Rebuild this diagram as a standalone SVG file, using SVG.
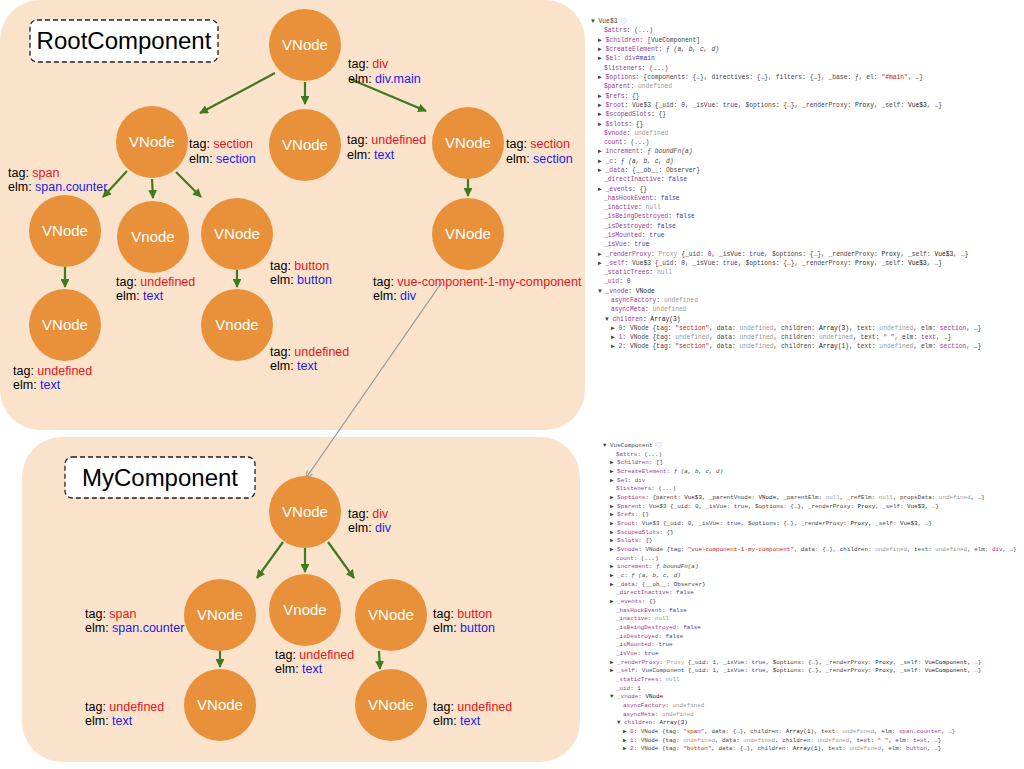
<svg xmlns="http://www.w3.org/2000/svg" width="1024" height="769" viewBox="0 0 1024 769">
<style>
.panel{fill:#fbe3cb}
.title{fill:#fff;stroke:#222;stroke-width:1.3;stroke-dasharray:5 3}
.tt{font-family:"Liberation Sans",Arial,sans-serif;font-size:24px;fill:#000}
.n circle{fill:#e8913a}
.n text.v{font-family:"Liberation Sans",Arial,sans-serif;font-size:15px;fill:#fff;text-anchor:middle}
.lb{font-family:"Liberation Sans",Arial,sans-serif;font-size:12.5px;fill:#000}
.r{fill:#e8141a}.b{fill:#1b1be8}
.e line{stroke:#3f7a1f;stroke-width:2.2;marker-end:url(#ga)}
.c{font-family:"Liberation Mono","DejaVu Sans Mono",monospace;font-size:6.3px;fill:#444}
#console-my{font-size:5.9px}
.p{fill:#9a3a92}.g{fill:#999}.t{fill:#3a3ab0}.s{fill:#c41a16}.k{fill:#222}
</style>
<defs>
<marker id="ga" viewBox="0 0 10 10" refX="9" refY="5" markerWidth="4" markerHeight="4" orient="auto"><path d="M0,0L10,5L0,10z" fill="#3f7a1f"/></marker>
<marker id="gr" viewBox="0 0 10 10" refX="9" refY="5" markerWidth="6" markerHeight="6" orient="auto"><path d="M0,1L10,5L0,9" fill="none" stroke="#999" stroke-width="1.5"/></marker>
</defs>
<rect width="1024" height="769" fill="#fff"/>
<rect class="panel" x="0" y="0" width="585" height="430" rx="40"/>
<rect class="panel" x="22" y="437" width="558" height="325" rx="40"/>
<g id="title-root"><rect class="title" x="30" y="20" width="188" height="42" rx="7"/><text class="tt" x="124" y="49" text-anchor="middle">RootComponent</text></g>
<g id="title-my"><rect class="title" x="65" y="457" width="190" height="41" rx="7"/><text class="tt" x="160" y="486" text-anchor="middle">MyComponent</text></g>

<g id="connectors">
<g class="e">
<line x1="275" y1="73" x2="200" y2="113"/>
<line x1="305" y1="82" x2="305" y2="104"/>
<line x1="350" y1="79" x2="426" y2="111"/>
<line x1="127" y1="171" x2="103" y2="197"/>
<line x1="152" y1="179" x2="153" y2="198"/>
<line x1="176" y1="172" x2="201" y2="197"/>
<line x1="468" y1="179" x2="468" y2="196"/>
<line x1="65" y1="267" x2="65" y2="287"/>
<line x1="237" y1="270" x2="237" y2="287"/>
<line x1="283" y1="542" x2="257" y2="578"/>
<line x1="305" y1="548" x2="305" y2="572"/>
<line x1="328" y1="542" x2="354" y2="578"/>
<line x1="220" y1="651" x2="220" y2="667"/>
<line x1="379" y1="651" x2="380" y2="669"/>
</g>
<line x1="442" y1="282" x2="306" y2="478" stroke="#999" stroke-width="1.3" marker-end="url(#gr)"/>
</g>

<g id="n1" class="n"><circle cx="305" cy="45" r="36"/><text class="v" x="305" y="50">VNode</text><text class="lb" x="348" y="68">tag: <tspan class="r">div</tspan></text><text class="lb" x="348" y="83">elm: <tspan class="b">div.main</tspan></text></g>
<g id="n2" class="n"><circle cx="152" cy="142" r="36"/><text class="v" x="152" y="147">VNode</text><text class="lb" x="189" y="148">tag: <tspan class="r">section</tspan></text><text class="lb" x="189" y="163">elm: <tspan class="b">section</tspan></text></g>
<g id="n3" class="n"><circle cx="305" cy="145" r="36"/><text class="v" x="305" y="150">VNode</text><text class="lb" x="347" y="144">tag: <tspan class="r">undefined</tspan></text><text class="lb" x="347" y="159">elm: <tspan class="b">text</tspan></text></g>
<g id="n4" class="n"><circle cx="468" cy="143" r="36"/><text class="v" x="468" y="148">VNode</text><text class="lb" x="506" y="148">tag: <tspan class="r">section</tspan></text><text class="lb" x="506" y="163">elm: <tspan class="b">section</tspan></text></g>
<g id="n5" class="n"><circle cx="65" cy="231" r="36"/><text class="v" x="65" y="236">VNode</text><text class="lb" x="8" y="177">tag: <tspan class="r">span</tspan></text><text class="lb" x="8" y="191">elm: <tspan class="b">span.counter</tspan></text></g>
<g id="n6" class="n"><circle cx="153" cy="237" r="36"/><text class="v" x="153" y="242">Vnode</text><text class="lb" x="116" y="286">tag: <tspan class="r">undefined</tspan></text><text class="lb" x="116" y="300">elm: <tspan class="b">text</tspan></text></g>
<g id="n7" class="n"><circle cx="237" cy="234" r="36"/><text class="v" x="237" y="239">VNode</text><text class="lb" x="270" y="270">tag: <tspan class="r">button</tspan></text><text class="lb" x="270" y="284">elm: <tspan class="b">button</tspan></text></g>
<g id="n8" class="n"><circle cx="468" cy="234" r="36"/><text class="v" x="468" y="239">VNode</text><text class="lb" x="373" y="286">tag: <tspan class="r">vue-component-1-my-component</tspan></text><text class="lb" x="373" y="300">elm: <tspan class="b">div</tspan></text></g>
<g id="n9" class="n"><circle cx="65" cy="325" r="36"/><text class="v" x="65" y="330">VNode</text><text class="lb" x="13" y="375">tag: <tspan class="r">undefined</tspan></text><text class="lb" x="13" y="389">elm: <tspan class="b">text</tspan></text></g>
<g id="n10" class="n"><circle cx="237" cy="325" r="36"/><text class="v" x="237" y="330">Vnode</text><text class="lb" x="270" y="356">tag: <tspan class="r">undefined</tspan></text><text class="lb" x="270" y="370">elm: <tspan class="b">text</tspan></text></g>

<g id="m1" class="n"><circle cx="305" cy="512" r="36"/><text class="v" x="305" y="517">VNode</text><text class="lb" x="348" y="518">tag: <tspan class="r">div</tspan></text><text class="lb" x="348" y="532">elm: <tspan class="b">div</tspan></text></g>
<g id="m2" class="n"><circle cx="220" cy="615" r="36"/><text class="v" x="220" y="620">VNode</text><text class="lb" x="85" y="618">tag: <tspan class="r">span</tspan></text><text class="lb" x="85" y="632">elm: <tspan class="b">span.counter</tspan></text></g>
<g id="m3" class="n"><circle cx="305" cy="610" r="36"/><text class="v" x="305" y="615">Vnode</text><text class="lb" x="275" y="659">tag: <tspan class="r">undefined</tspan></text><text class="lb" x="275" y="673">elm: <tspan class="b">text</tspan></text></g>
<g id="m4" class="n"><circle cx="391" cy="615" r="36"/><text class="v" x="391" y="620">VNode</text><text class="lb" x="433" y="618">tag: <tspan class="r">button</tspan></text><text class="lb" x="433" y="632">elm: <tspan class="b">button</tspan></text></g>
<g id="m5" class="n"><circle cx="220" cy="705" r="36"/><text class="v" x="220" y="710">VNode</text><text class="lb" x="85" y="711">tag: <tspan class="r">undefined</tspan></text><text class="lb" x="85" y="725">elm: <tspan class="b">text</tspan></text></g>
<g id="m6" class="n"><circle cx="391" cy="705" r="36"/><text class="v" x="391" y="710">VNode</text><text class="lb" x="433" y="711">tag: <tspan class="r">undefined</tspan></text><text class="lb" x="433" y="725">elm: <tspan class="b">text</tspan></text></g>

<g id="console-root" class="c">
<text x="591" y="23">▼ Vue$3 <tspan fill="#8ab4f8">ⓘ</tspan></text>
<text x="604" y="32"><tspan class="p">$attrs</tspan>: (...)</text>
<text x="598" y="42">▶ <tspan class="p">$children</tspan>: [VueComponent]</text>
<text x="598" y="51">▶ <tspan class="p">$createElement</tspan>: <tspan class="t">ƒ</tspan> <tspan font-style="italic">(a, b, c, d)</tspan></text>
<text x="598" y="60">▶ <tspan class="p">$el</tspan>: <tspan class="p">div</tspan><tspan class="t">#main</tspan></text>
<text x="604" y="70"><tspan class="p">$listeners</tspan>: (...)</text>
<text x="598" y="79">▶ <tspan class="p">$options</tspan>: {components: {…}, directives: {…}, filters: {…}, _base: ƒ, el: <tspan class="s">"#main"</tspan>, …}</text>
<text x="604" y="88"><tspan class="p">$parent</tspan>: <tspan class="g">undefined</tspan></text>
<text x="598" y="98">▶ <tspan class="p">$refs</tspan>: {}</text>
<text x="598" y="107">▶ <tspan class="p">$root</tspan>: Vue$3 {_uid: <tspan class="t">0</tspan>, _isVue: <tspan class="t">true</tspan>, $options: {…}, _renderProxy: <tspan class="k">Proxy</tspan>, _self: <tspan class="k">Vue$3</tspan>, …}</text>
<text x="598" y="116">▶ <tspan class="p">$scopedSlots</tspan>: {}</text>
<text x="598" y="126">▶ <tspan class="p">$slots</tspan>: {}</text>
<text x="604" y="135"><tspan class="p">$vnode</tspan>: <tspan class="g">undefined</tspan></text>
<text x="604" y="144"><tspan class="p">count</tspan>: (...)</text>
<text x="598" y="153">▶ <tspan class="p">increment</tspan>: <tspan class="t">ƒ</tspan> <tspan font-style="italic">boundFn(a)</tspan></text>
<text x="598" y="163">▶ <tspan class="p">_c</tspan>: <tspan class="t">ƒ</tspan> <tspan font-style="italic">(a, b, c, d)</tspan></text>
<text x="598" y="172">▶ <tspan class="p">_data</tspan>: {__ob__: Observer}</text>
<text x="604" y="181"><tspan class="p">_directInactive</tspan>: <tspan class="t">false</tspan></text>
<text x="598" y="191">▶ <tspan class="p">_events</tspan>: {}</text>
<text x="604" y="200"><tspan class="p">_hasHookEvent</tspan>: <tspan class="t">false</tspan></text>
<text x="604" y="209"><tspan class="p">_inactive</tspan>: <tspan class="g">null</tspan></text>
<text x="604" y="218"><tspan class="p">_isBeingDestroyed</tspan>: <tspan class="t">false</tspan></text>
<text x="604" y="228"><tspan class="p">_isDestroyed</tspan>: <tspan class="t">false</tspan></text>
<text x="604" y="237"><tspan class="p">_isMounted</tspan>: <tspan class="t">true</tspan></text>
<text x="604" y="246"><tspan class="p">_isVue</tspan>: <tspan class="t">true</tspan></text>
<text x="598" y="256">▶ <tspan class="p">_renderProxy</tspan>: <tspan class="g">Proxy</tspan> {_uid: <tspan class="t">0</tspan>, _isVue: <tspan class="t">true</tspan>, $options: {…}, _renderProxy: <tspan class="k">Proxy</tspan>, _self: <tspan class="k">Vue$3</tspan>, …}</text>
<text x="598" y="265">▶ <tspan class="p">_self</tspan>: Vue$3 {_uid: <tspan class="t">0</tspan>, _isVue: <tspan class="t">true</tspan>, $options: {…}, _renderProxy: <tspan class="k">Proxy</tspan>, _self: <tspan class="k">Vue$3</tspan>, …}</text>
<text x="604" y="274"><tspan class="p">_staticTrees</tspan>: <tspan class="g">null</tspan></text>
<text x="604" y="283"><tspan class="p">_uid</tspan>: <tspan class="t">0</tspan></text>
<text x="598" y="293">▼ <tspan class="p">_vnode</tspan>: <tspan class="k">VNode</tspan></text>
<text x="611" y="302"><tspan class="p">asyncFactory</tspan>: <tspan class="g">undefined</tspan></text>
<text x="611" y="311"><tspan class="p">asyncMeta</tspan>: <tspan class="g">undefined</tspan></text>
<text x="605" y="321">▼ <tspan class="p">children</tspan>: <tspan class="k">Array(3)</tspan></text>
<text x="611" y="330">▶ <tspan class="p">0</tspan>: VNode {tag: <tspan class="s">"section"</tspan>, data: <tspan class="g">undefined</tspan>, children: <tspan class="k">Array(3)</tspan>, text: <tspan class="g">undefined</tspan>, elm: <tspan class="p">section</tspan>, …}</text>
<text x="611" y="339">▶ <tspan class="p">1</tspan>: VNode {tag: <tspan class="g">undefined</tspan>, data: <tspan class="g">undefined</tspan>, children: <tspan class="g">undefined</tspan>, text: <tspan class="s">" "</tspan>, elm: <tspan class="p">text</tspan>, …}</text>
<text x="611" y="348">▶ <tspan class="p">2</tspan>: VNode {tag: <tspan class="s">"section"</tspan>, data: <tspan class="g">undefined</tspan>, children: <tspan class="k">Array(1)</tspan>, text: <tspan class="g">undefined</tspan>, elm: <tspan class="p">section</tspan>, …}</text>
</g>

<g id="console-my" class="c">
<text x="603" y="447">▼ VueComponent <tspan fill="#8ab4f8">ⓘ</tspan></text>
<text x="616" y="456"><tspan class="p">$attrs</tspan>: (...)</text>
<text x="610" y="464">▶ <tspan class="p">$children</tspan>: []</text>
<text x="610" y="473">▶ <tspan class="p">$createElement</tspan>: <tspan class="t">ƒ</tspan> <tspan font-style="italic">(a, b, c, d)</tspan></text>
<text x="610" y="482">▶ <tspan class="p">$el</tspan>: <tspan class="p">div</tspan></text>
<text x="616" y="490"><tspan class="p">$listeners</tspan>: (...)</text>
<text x="610" y="499">▶ <tspan class="p">$options</tspan>: {parent: <tspan class="k">Vue$3</tspan>, _parentVnode: <tspan class="k">VNode</tspan>, _parentElm: <tspan class="g">null</tspan>, _refElm: <tspan class="g">null</tspan>, propsData: <tspan class="g">undefined</tspan>, …}</text>
<text x="610" y="508">▶ <tspan class="p">$parent</tspan>: Vue$3 {_uid: <tspan class="t">0</tspan>, _isVue: <tspan class="t">true</tspan>, $options: {…}, _renderProxy: <tspan class="k">Proxy</tspan>, _self: <tspan class="k">Vue$3</tspan>, …}</text>
<text x="610" y="516">▶ <tspan class="p">$refs</tspan>: {}</text>
<text x="610" y="525">▶ <tspan class="p">$root</tspan>: Vue$3 {_uid: <tspan class="t">0</tspan>, _isVue: <tspan class="t">true</tspan>, $options: {…}, _renderProxy: <tspan class="k">Proxy</tspan>, _self: <tspan class="k">Vue$3</tspan>, …}</text>
<text x="610" y="534">▶ <tspan class="p">$scopedSlots</tspan>: {}</text>
<text x="610" y="542">▶ <tspan class="p">$slots</tspan>: {}</text>
<text x="610" y="551">▶ <tspan class="p">$vnode</tspan>: VNode {tag: <tspan class="s">"vue-component-1-my-component"</tspan>, data: {…}, children: <tspan class="g">undefined</tspan>, text: <tspan class="g">undefined</tspan>, elm: <tspan class="p">div</tspan>, …}</text>
<text x="616" y="560"><tspan class="p">count</tspan>: (...)</text>
<text x="610" y="568">▶ <tspan class="p">increment</tspan>: <tspan class="t">ƒ</tspan> <tspan font-style="italic">boundFn(a)</tspan></text>
<text x="610" y="577">▶ <tspan class="p">_c</tspan>: <tspan class="t">ƒ</tspan> <tspan font-style="italic">(a, b, c, d)</tspan></text>
<text x="610" y="586">▶ <tspan class="p">_data</tspan>: {__ob__: Observer}</text>
<text x="616" y="594"><tspan class="p">_directInactive</tspan>: <tspan class="t">false</tspan></text>
<text x="610" y="603">▶ <tspan class="p">_events</tspan>: {}</text>
<text x="616" y="612"><tspan class="p">_hasHookEvent</tspan>: <tspan class="t">false</tspan></text>
<text x="616" y="620"><tspan class="p">_inactive</tspan>: <tspan class="g">null</tspan></text>
<text x="616" y="629"><tspan class="p">_isBeingDestroyed</tspan>: <tspan class="t">false</tspan></text>
<text x="616" y="638"><tspan class="p">_isDestroyed</tspan>: <tspan class="t">false</tspan></text>
<text x="616" y="646"><tspan class="p">_isMounted</tspan>: <tspan class="t">true</tspan></text>
<text x="616" y="655"><tspan class="p">_isVue</tspan>: <tspan class="t">true</tspan></text>
<text x="610" y="664">▶ <tspan class="p">_renderProxy</tspan>: <tspan class="g">Proxy</tspan> {_uid: <tspan class="t">1</tspan>, _isVue: <tspan class="t">true</tspan>, $options: {…}, _renderProxy: <tspan class="k">Proxy</tspan>, _self: <tspan class="k">VueComponent</tspan>, …}</text>
<text x="610" y="672">▶ <tspan class="p">_self</tspan>: VueComponent {_uid: <tspan class="t">1</tspan>, _isVue: <tspan class="t">true</tspan>, $options: {…}, _renderProxy: <tspan class="k">Proxy</tspan>, _self: <tspan class="k">VueComponent</tspan>, …}</text>
<text x="616" y="681"><tspan class="p">_staticTrees</tspan>: <tspan class="g">null</tspan></text>
<text x="616" y="690"><tspan class="p">_uid</tspan>: <tspan class="t">1</tspan></text>
<text x="610" y="698">▼ <tspan class="p">_vnode</tspan>: <tspan class="k">VNode</tspan></text>
<text x="623" y="707"><tspan class="p">asyncFactory</tspan>: <tspan class="g">undefined</tspan></text>
<text x="623" y="716"><tspan class="p">asyncMeta</tspan>: <tspan class="g">undefined</tspan></text>
<text x="617" y="724">▼ <tspan class="p">children</tspan>: <tspan class="k">Array(3)</tspan></text>
<text x="623" y="733">▶ <tspan class="p">0</tspan>: VNode {tag: <tspan class="s">"span"</tspan>, data: {…}, children: <tspan class="k">Array(1)</tspan>, text: <tspan class="g">undefined</tspan>, elm: <tspan class="p">span.counter</tspan>, …}</text>
<text x="623" y="742">▶ <tspan class="p">1</tspan>: VNode {tag: <tspan class="g">undefined</tspan>, data: <tspan class="g">undefined</tspan>, children: <tspan class="g">undefined</tspan>, text: <tspan class="s">" "</tspan>, elm: <tspan class="p">text</tspan>, …}</text>
<text x="623" y="750">▶ <tspan class="p">2</tspan>: VNode {tag: <tspan class="s">"button"</tspan>, data: {…}, children: <tspan class="k">Array(1)</tspan>, text: <tspan class="g">undefined</tspan>, elm: <tspan class="p">button</tspan>, …}</text>
</g>
</svg>
